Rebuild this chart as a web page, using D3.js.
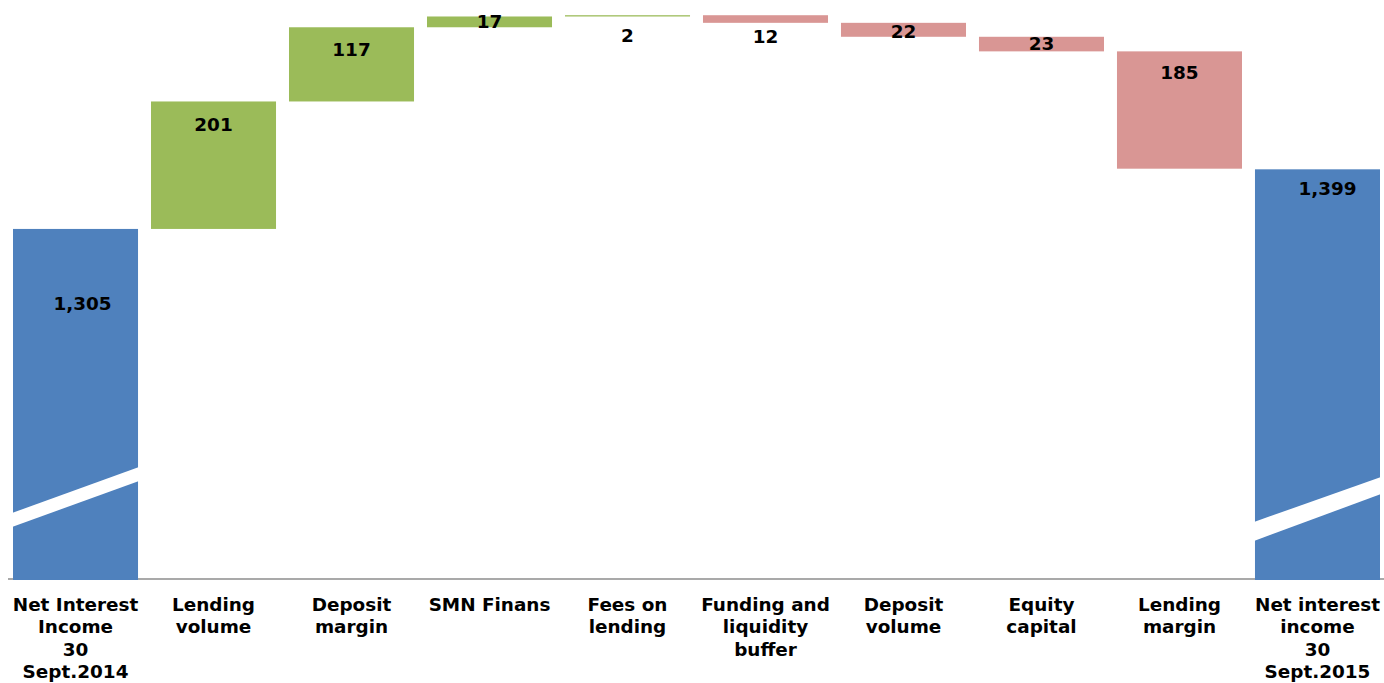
<!DOCTYPE html>
<html>
<head>
<meta charset="utf-8">
<script src="https://cdn.jsdelivr.net/npm/d3@7/dist/d3.min.js"></script>
<style>
  html, body { margin: 0; padding: 0; background: #fff; }
  svg { display: block; }
  text { font-family: "DejaVu Sans", Verdana, sans-serif; font-weight: bold; fill: #000; }
</style>
</head>
<body>
<svg id="chart" width="1384" height="683"></svg>
<script>
// Net interest income bridge, 30 Sept. 2014 -> 30 Sept. 2015
const categories = [
  "Net Interest\nIncome\n30\nSept.2014",
  "Lending\nvolume",
  "Deposit\nmargin",
  "SMN Finans",
  "Fees on\nlending",
  "Funding and\nliquidity\nbuffer",
  "Deposit\nvolume",
  "Equity\ncapital",
  "Lending\nmargin",
  "Net interest\nincome\n30\nSept.2015"
];
const kinds = ["total", "up", "up", "up", "up", "down", "down", "down", "down", "total"];
const values = [1305, 201, 117, 17, 2, 12, 22, 23, 185, 1399];

// Layout
const W = 1384, H = 683;
const axisY = 579;
const fontSize = 18.4;
const colors = { total: "#4F81BD", up: "#9BBB59", down: "#D99694" };
// distance from the upper edge of each bar to its value label centre
const labelDy = [74, 23, 22, 5, 20, 21, 9, 7, 21, 19];
const labelDx = [7, 0, 0, 0, 0, 0, 0, 0, 0, 10];

const svg = d3.select("#chart");

const x = d3.scaleBand()
  .domain(d3.range(categories.length))
  .range([13, 1380])
  .paddingInner(0.094)
  .paddingOuter(0);

// value axis starts above zero (broken axis)
const y = d3.scaleLinear().domain([753, 1666]).range([axisY, 0]);
const yMin = y.domain()[0];

// running totals
let run = 0;
const bars = values.map((v, i) => {
  let lo, hi;
  if (kinds[i] === "total") { lo = yMin; hi = v; run = v; }
  else if (kinds[i] === "up") { lo = run; hi = run + v; run = hi; }
  else { hi = run; lo = run - v; run = lo; }
  return { i, v, lo, hi, kind: kinds[i] };
});

// axis line
svg.append("line")
  .attr("x1", 8).attr("x2", W)
  .attr("y1", axisY).attr("y2", axisY)
  .attr("stroke", "#8c8c8c").attr("stroke-width", 1.5);

// bars
svg.append("g").selectAll("rect")
  .data(bars)
  .join("rect")
  .attr("x", d => x(d.i))
  .attr("width", x.bandwidth())
  .attr("y", d => y(d.hi))
  .attr("height", d => Math.max(1, y(d.lo) - y(d.hi) + (d.kind === "total" ? 1 : 0)))
  .attr("fill", d => colors[d.kind]);

// axis break marks on the total bars
const breaks = [
  { i: 0, l: [66, 52], r: [112, 98] },
  { i: categories.length - 1, l: [57, 38], r: [102, 85] }
];
svg.append("g").selectAll("polygon")
  .data(breaks)
  .join("polygon")
  .attr("fill", "#fff")
  .attr("points", d => {
    const x0 = x(d.i) - 1, x1 = x(d.i) + x.bandwidth() + 1;
    return [[x0, axisY - d.l[0]], [x1, axisY - d.r[0]], [x1, axisY - d.r[1]], [x0, axisY - d.l[1]]]
      .map(p => p.join(",")).join(" ");
  });

// value labels
const fmt = d3.format(",");
svg.append("g").selectAll("text")
  .data(bars)
  .join("text")
  .attr("x", d => x(d.i) + x.bandwidth() / 2 + labelDx[d.i])
  .attr("y", d => y(d.hi) + labelDy[d.i])
  .attr("dy", "0.36em")
  .attr("text-anchor", "middle")
  .attr("font-size", fontSize)
  .text(d => fmt(d.v));

// category labels
const cat = svg.append("g").selectAll("text")
  .data(categories)
  .join("text")
  .attr("x", (d, i) => x(i) + x.bandwidth() / 2)
  .attr("y", 610.5)
  .attr("text-anchor", "middle")
  .attr("font-size", fontSize);
cat.selectAll("tspan")
  .data(d => d.split("\n"))
  .join("tspan")
  .attr("x", function () { return d3.select(this.parentNode).attr("x"); })
  .attr("dy", (d, j) => j === 0 ? 0 : 22.6)
  .text(d => d);
</script>
</body>
</html>
